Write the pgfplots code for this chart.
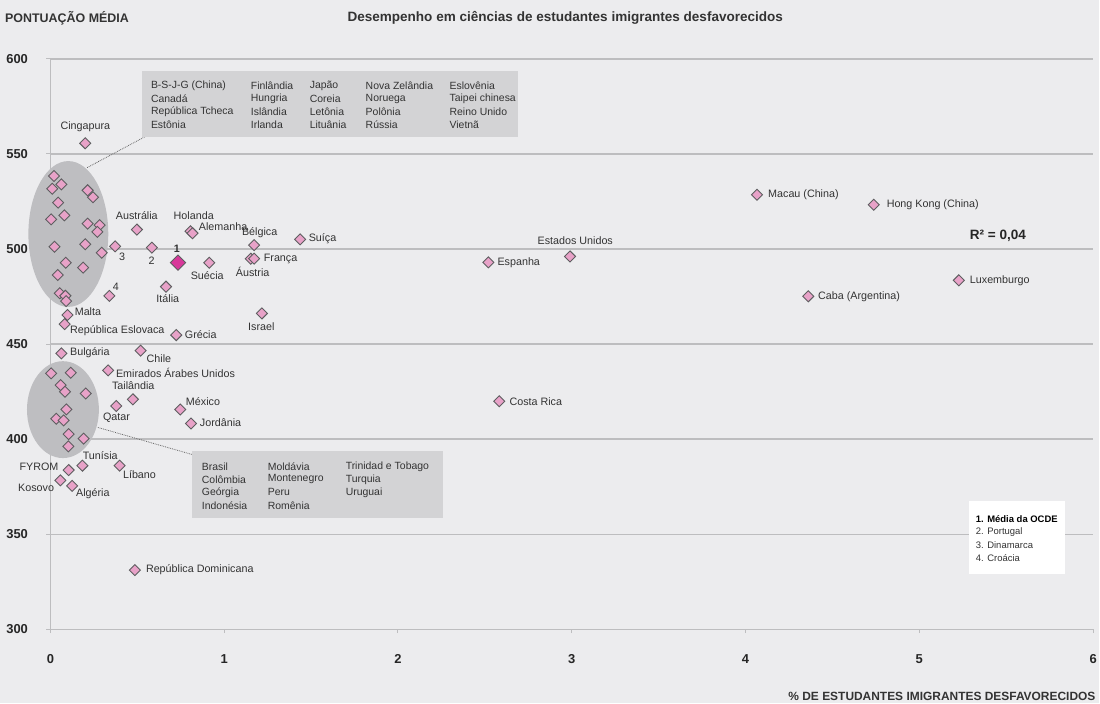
\documentclass[border=0pt]{standalone}
\usepackage{fontspec}
\setmainfont{Liberation Sans}
\usepackage{pgfplots}
\pgfplotsset{compat=1.18}
\definecolor{bgc}{HTML}{ECECEE}
\definecolor{gridc}{HTML}{BDBDBF}
\definecolor{pinkc}{HTML}{E8A2C8}
\definecolor{oecd}{HTML}{D8389A}
\definecolor{ellc}{HTML}{BEBEC1}
\definecolor{boxc}{HTML}{D3D3D5}
\definecolor{edgec}{HTML}{5E5E60}
\definecolor{txt}{HTML}{333333}
\tikzset{lbl/.style={inner sep=0pt, text=txt, font=\fontsize{10.8}{12}\selectfont},
         btx/.style={inner sep=0pt, anchor=west, text=txt, font=\fontsize{10.5}{12}\selectfont}}
\begin{document}
\begin{tikzpicture}[x=1bp,y=1bp]
\fill[bgc] (0,0) rectangle (1100,704);
\begin{axis}[
  at={(50.5bp,74bp)}, anchor=south west,
  scale only axis, width=1044bp, height=571bp,
  xmin=0, xmax=6, ymin=300, ymax=600,
  axis lines=left, axis line style={-, draw=gridc, line width=1.2bp},
  ymajorgrids, grid style={draw=gridc, line width=1.2bp},
  xtick={0,1,2,3,4,5,6}, ytick={300,350,400,450,500,550,600},
  tick align=outside, major tick length=4bp,
  tick style={draw=gridc, line width=1bp},
  ticklabel style={font=\fontsize{13}{15}\selectfont\bfseries, text=black!85},
  /pgf/number format/assume math mode=true,
  xticklabel style={yshift=-18bp},
  yticklabel style={xshift=-15bp},
  clip=false,
]
\fill[ellc] (axis cs:0.103,507.9) ellipse [x radius=40bp, y radius=73bp];
\fill[ellc] (axis cs:0.072,415.5) ellipse [x radius=36bp, y radius=48.5bp];
\addplot[only marks, mark=square*, mark size=3.9bp,
  mark options={rotate=45, fill=pinkc, draw=edgec, line width=0.9bp}]
  table[row sep=\\] {
x y\\
0.20 555.6\\
0.02 538.4\\ 0.063 534.0\\ 0.01 531.7\\ 0.214 530.9\\ 0.245 527.2\\
0.044 524.4\\ 0.08 517.7\\ 0.004 515.6\\ 0.214 513.3\\ 0.283 512.6\\
0.27 509.0\\ 0.023 501.2\\ 0.20 502.5\\ 0.295 498.0\\ 0.088 492.8\\
0.188 490.2\\ 0.042 486.3\\ 0.054 476.7\\ 0.086 475.4\\ 0.09 472.6\\
0.372 501.4\\ 0.498 510.2\\ 0.584 500.7\\
0.806 509.3\\ 0.818 508.3\\ 0.914 492.8\\ 1.172 502.0\\ 1.153 494.9\\
1.172 494.9\\ 1.437 505.1\\ 0.665 480.2\\ 0.339 475.3\\ 1.217 466.1\\
0.098 465.3\\ 0.082 460.5\\ 0.724 454.7\\ 0.063 445.1\\ 0.519 446.5\\
0.332 436.1\\ 0.475 420.9\\ 0.379 417.4\\ 0.747 415.6\\ 0.809 408.2\\
0.184 386.0\\ 0.398 386.0\\ 0.105 383.7\\ 0.057 378.3\\ 0.125 375.4\\
0.486 331.1\\ 2.583 419.9\\ 2.520 493.0\\ 2.990 496.1\\ 4.066 528.5\\
4.738 523.3\\ 5.227 483.5\\ 4.361 475.1\\
0.004 434.6\\ 0.117 434.9\\ 0.059 428.4\\ 0.084 424.9\\ 0.203 424.0\\
0.092 415.6\\ 0.034 410.7\\ 0.076 409.8\\ 0.105 402.6\\ 0.191 400.2\\
0.103 396.2\\
};
\addplot[only marks, mark=square*, mark size=5.4bp,
  mark options={rotate=45, fill=oecd, draw=edgec, line width=0.9bp}]
  coordinates {(0.734,492.8)};
\end{axis}
% titles
\node[anchor=west, inner sep=0pt, font=\fontsize{12.5}{14}\selectfont\bfseries, text=txt] at (5,704-18) {PONTUAÇÃO MÉDIA};
\node[inner sep=0pt, font=\fontsize{13.6}{15}\selectfont\bfseries, text=txt] at (566,704-18) {Desempenho em ciências de estudantes imigrantes desfavorecidos};
\node[anchor=east, inner sep=0pt, font=\fontsize{12}{14}\selectfont\bfseries, text=txt] at (1097,704-697) {\% DE ESTUDANTES IMIGRANTES DESFAVORECIDOS};
\node[anchor=west, inner sep=0pt, font=\fontsize{13.6}{15}\selectfont\bfseries, text=black!85] at (971,704-236) {R² = 0,04};
% labels
\node[lbl] at (85.5,704-127) {Cingapura};
\node[lbl] at (137,704-216) {Austrália};
\node[lbl] at (194,704-216) {Holanda};
\node[lbl,anchor=west] at (199,704-226.5) {Alemanha};
\node[lbl] at (260,704-233) {Bélgica};
\node[lbl,anchor=west] at (309,704-239) {Suíça};
\node[lbl,anchor=west] at (264,704-259) {França};
\node[lbl] at (253,704-272) {Áustria};
\node[lbl] at (207.5,704-276) {Suécia};
\node[lbl] at (168,704-299) {Itália};
\node[lbl,font=\fontsize{10.8}{12}\selectfont\bfseries] at (177,704-249) {1};
\node[lbl] at (151.7,704-261) {2};
\node[lbl] at (122.3,704-257) {3};
\node[lbl] at (116,704-287.5) {4};
\node[lbl,anchor=west] at (74.7,704-312) {Malta};
\node[lbl,anchor=west] at (70,704-331) {República Eslovaca};
\node[lbl,anchor=west] at (185,704-335) {Grécia};
\node[lbl] at (261.7,704-327) {Israel};
\node[lbl,anchor=west] at (70,704-353.3) {Bulgária};
\node[lbl,anchor=west] at (146.7,704-359) {Chile};
\node[lbl,anchor=west] at (116,704-373.7) {Emirados Árabes Unidos};
\node[lbl,anchor=west] at (112,704-386) {Tailândia};
\node[lbl,anchor=west] at (103,704-418) {Qatar};
\node[lbl,anchor=west] at (186,704-402) {México};
\node[lbl,anchor=west] at (200,704-423) {Jordânia};
\node[lbl,anchor=west] at (82.7,704-456) {Tunísia};
\node[lbl,anchor=west] at (123,704-475) {Líbano};
\node[lbl,anchor=east] at (58.7,704-467) {FYROM};
\node[lbl,anchor=east] at (54.3,704-488) {Kosovo};
\node[lbl,anchor=west] at (76,704-494.7) {Algéria};
\node[lbl,anchor=west] at (146,704-570.7) {República Dominicana};
\node[lbl,anchor=west] at (510,704-401.7) {Costa Rica};
\node[lbl,anchor=west] at (498,704-263) {Espanha};
\node[lbl] at (576,704-241) {Estados Unidos};
\node[lbl,anchor=west] at (769,704-195) {Macau (China)};
\node[lbl,anchor=west] at (887.7,704-205) {Hong Kong (China)};
\node[lbl,anchor=west] at (971,704-281) {Luxemburgo};
\node[lbl,anchor=west] at (819,704-296.7) {Caba (Argentina)};
% top box
\draw[densely dotted, draw=gray!80!black, line width=0.8bp] (145,704-137) -- (87,704-168);
\fill[boxc] (142,704-71) rectangle (519,704-137);
\node[btx] at (151,704-86) {B-S-J-G (China)};
\node[btx] at (151,704-99) {Canadá};
\node[btx] at (151,704-112) {República Tcheca};
\node[btx] at (151,704-125) {Estônia};
\node[btx] at (251,704-86) {Finlândia};
\node[btx] at (251,704-99) {Hungria};
\node[btx] at (251,704-112) {Islândia};
\node[btx] at (251,704-125) {Irlanda};
\node[btx] at (310,704-86) {Japão};
\node[btx] at (310,704-99) {Coreia};
\node[btx] at (310,704-112) {Letônia};
\node[btx] at (310,704-125) {Lituânia};
\node[btx] at (366,704-86) {Nova Zelândia};
\node[btx] at (366,704-99) {Noruega};
\node[btx] at (366,704-112) {Polônia};
\node[btx] at (366,704-125) {Rússia};
\node[btx] at (450,704-86) {Eslovênia};
\node[btx] at (450,704-99) {Taipei chinesa};
\node[btx] at (450,704-112) {Reino Unido};
\node[btx] at (450,704-125) {Vietnã};
% bottom box
\draw[densely dotted, draw=gray!80!black, line width=0.8bp] (98,704-428) -- (192,704-455);
\fill[boxc] (192,704-452) rectangle (444,704-519);
\node[btx] at (202,704-467) {Brasil};
\node[btx] at (202,704-480) {Colômbia};
\node[btx] at (202,704-493) {Geórgia};
\node[btx] at (202,704-506) {Indonésia};
\node[btx] at (268,704-467) {Moldávia};
\node[btx] at (268,704-480) {Montenegro};
\node[btx] at (268,704-493) {Peru};
\node[btx] at (268,704-506) {Romênia};
\node[btx] at (346,704-467) {Trinidad e Tobago};
\node[btx] at (346,704-480) {Turquia};
\node[btx] at (346,704-493) {Uruguai};
% legend box
\fill[white] (970,704-502) rectangle (1066,704-575);
\node[btx,font=\fontsize{9.5}{11}\selectfont\bfseries,text=black] at (977,704-520) {1. Média da OCDE};
\node[btx,font=\fontsize{9.5}{11}\selectfont] at (977,704-533) {2. Portugal};
\node[btx,font=\fontsize{9.5}{11}\selectfont] at (977,704-546) {3. Dinamarca};
\node[btx,font=\fontsize{9.5}{11}\selectfont] at (977,704-559) {4. Croácia};
\end{tikzpicture}
\end{document}
